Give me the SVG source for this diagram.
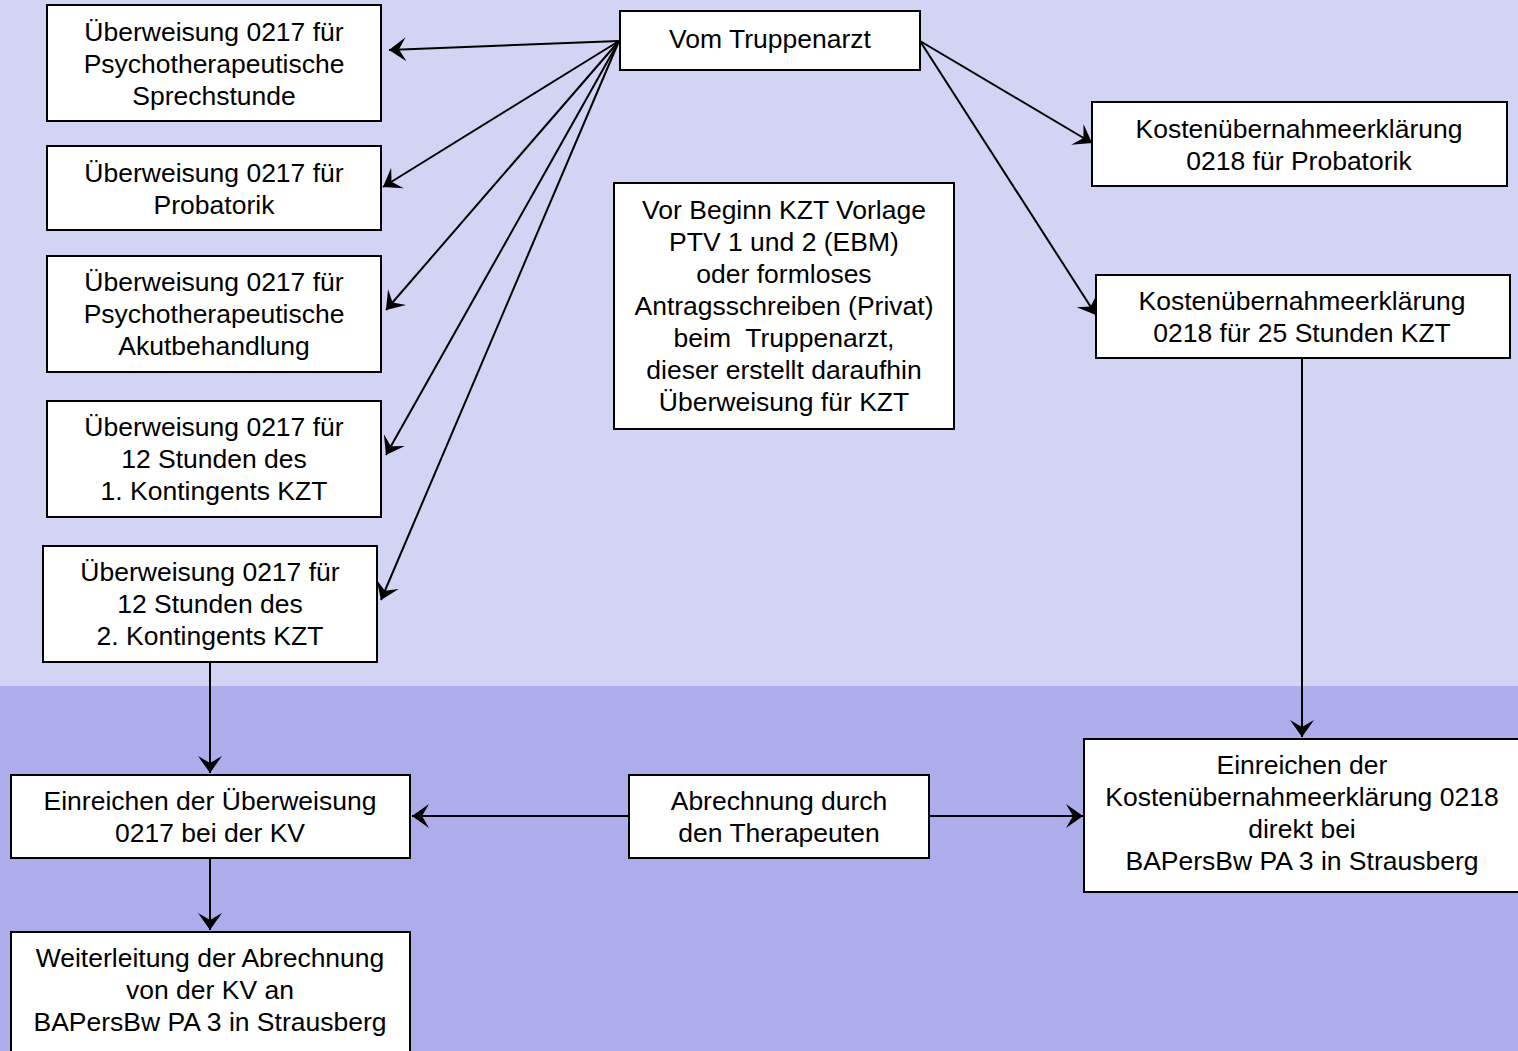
<svg xmlns="http://www.w3.org/2000/svg" width="1518" height="1051" viewBox="0 0 1518 1051">
  <style>
    .box { fill: #ffffff; stroke: #000000; stroke-width: 2; }
    .lbl { font-family: "Liberation Sans", Arial, sans-serif; font-size: 26.5px; fill: #000000; text-anchor: middle; white-space: pre; }
    .edge { fill: none; stroke: #000000; stroke-width: 2; marker-end: url(#arrow); }
  </style>
  <defs>
    <marker id="arrow" viewBox="-18 -13 20 26" refX="0" refY="0" markerWidth="20" markerHeight="26" markerUnits="userSpaceOnUse" orient="auto">
      <path d="M0,0 L-17,-12 L-10,0 L-17,12 Z" fill="#000000"/>
    </marker>
  </defs>

  <!-- swimlane bands -->
  <rect x="0" y="0" width="1518" height="686" fill="#d3d3f4"/>
  <rect x="0" y="686" width="1518" height="365" fill="#adadec"/>

  <g id="connectors">
    <line class="edge" x1="619" y1="41" x2="389" y2="50"/>
    <line class="edge" x1="619" y1="41" x2="383" y2="187"/>
    <line class="edge" x1="619" y1="41" x2="386" y2="310"/>
    <line class="edge" x1="619" y1="41" x2="386" y2="455"/>
    <line class="edge" x1="619" y1="41" x2="381" y2="600"/>
    <line class="edge" x1="920" y1="41" x2="1092" y2="143"/>
    <line class="edge" x1="920" y1="41" x2="1096" y2="315"/>
    <line class="edge" x1="1302" y1="358" x2="1302" y2="737"/>
    <line class="edge" x1="210" y1="662" x2="210" y2="773"/>
    <line class="edge" x1="210" y1="858" x2="210" y2="930"/>
    <line class="edge" x1="629" y1="816" x2="412" y2="816"/>
    <line class="edge" x1="929" y1="816" x2="1083" y2="816"/>
  </g>

  <g id="ueberweisung-sprechstunde">
    <rect class="box" x="47" y="5" width="334" height="116"/>
    <text class="lbl" x="214" y="41">Überweisung 0217 für</text>
    <text class="lbl" x="214" y="73">Psychotherapeutische</text>
    <text class="lbl" x="214" y="105">Sprechstunde</text>
  </g>

  <g id="ueberweisung-probatorik">
    <rect class="box" x="47" y="146" width="334" height="84"/>
    <text class="lbl" x="214" y="182">Überweisung 0217 für</text>
    <text class="lbl" x="214" y="214">Probatorik</text>
  </g>

  <g id="ueberweisung-akut">
    <rect class="box" x="47" y="256" width="334" height="116"/>
    <text class="lbl" x="214" y="291">Überweisung 0217 für</text>
    <text class="lbl" x="214" y="323">Psychotherapeutische</text>
    <text class="lbl" x="214" y="355">Akutbehandlung</text>
  </g>

  <g id="ueberweisung-kontingent1">
    <rect class="box" x="47" y="401" width="334" height="116"/>
    <text class="lbl" x="214" y="436">Überweisung 0217 für</text>
    <text class="lbl" x="214" y="468">12 Stunden des</text>
    <text class="lbl" x="214" y="500">1. Kontingents KZT</text>
  </g>

  <g id="ueberweisung-kontingent2">
    <rect class="box" x="43" y="546" width="334" height="116"/>
    <text class="lbl" x="210" y="581">Überweisung 0217 für</text>
    <text class="lbl" x="210" y="613">12 Stunden des</text>
    <text class="lbl" x="210" y="645">2. Kontingents KZT</text>
  </g>

  <g id="truppenarzt">
    <rect class="box" x="620" y="11" width="300" height="59"/>
    <text class="lbl" x="770" y="48">Vom Truppenarzt</text>
  </g>

  <g id="vor-beginn-kzt">
    <rect class="box" x="614" y="183" width="340" height="246"/>
    <text class="lbl" x="784" y="219">Vor Beginn KZT Vorlage</text>
    <text class="lbl" x="784" y="251">PTV 1 und 2 (EBM)</text>
    <text class="lbl" x="784" y="283">oder formloses</text>
    <text class="lbl" x="784" y="315">Antragsschreiben (Privat)</text>
    <text class="lbl" x="784" y="347">beim  Truppenarzt,</text>
    <text class="lbl" x="784" y="379">dieser erstellt daraufhin</text>
    <text class="lbl" x="784" y="411">Überweisung für KZT</text>
  </g>

  <g id="kosten-probatorik">
    <rect class="box" x="1092" y="102" width="415" height="84"/>
    <text class="lbl" x="1299" y="138">Kostenübernahmeerklärung</text>
    <text class="lbl" x="1299" y="170">0218 für Probatorik</text>
  </g>

  <g id="kosten-25-stunden">
    <rect class="box" x="1096" y="275" width="414" height="83"/>
    <text class="lbl" x="1302" y="310">Kostenübernahmeerklärung</text>
    <text class="lbl" x="1302" y="342">0218 für 25 Stunden KZT</text>
  </g>

  <g id="einreichen-kv">
    <rect class="box" x="11" y="775" width="399" height="83"/>
    <text class="lbl" x="210" y="810">Einreichen der Überweisung</text>
    <text class="lbl" x="210" y="842">0217 bei der KV</text>
  </g>

  <g id="abrechnung">
    <rect class="box" x="629" y="775" width="300" height="83"/>
    <text class="lbl" x="779" y="810">Abrechnung durch</text>
    <text class="lbl" x="779" y="842">den Therapeuten</text>
  </g>

  <g id="einreichen-bapersbw">
    <rect class="box" x="1084" y="739" width="450" height="153"/>
    <text class="lbl" x="1302" y="774">Einreichen der</text>
    <text class="lbl" x="1302" y="806">Kostenübernahmeerklärung 0218</text>
    <text class="lbl" x="1302" y="838">direkt bei</text>
    <text class="lbl" x="1302" y="870">BAPersBw PA 3 in Strausberg</text>
  </g>

  <g id="weiterleitung">
    <rect class="box" x="11" y="932" width="399" height="130"/>
    <text class="lbl" x="210" y="967">Weiterleitung der Abrechnung</text>
    <text class="lbl" x="210" y="999">von der KV an</text>
    <text class="lbl" x="210" y="1031">BAPersBw PA 3 in Strausberg</text>
  </g>
</svg>
